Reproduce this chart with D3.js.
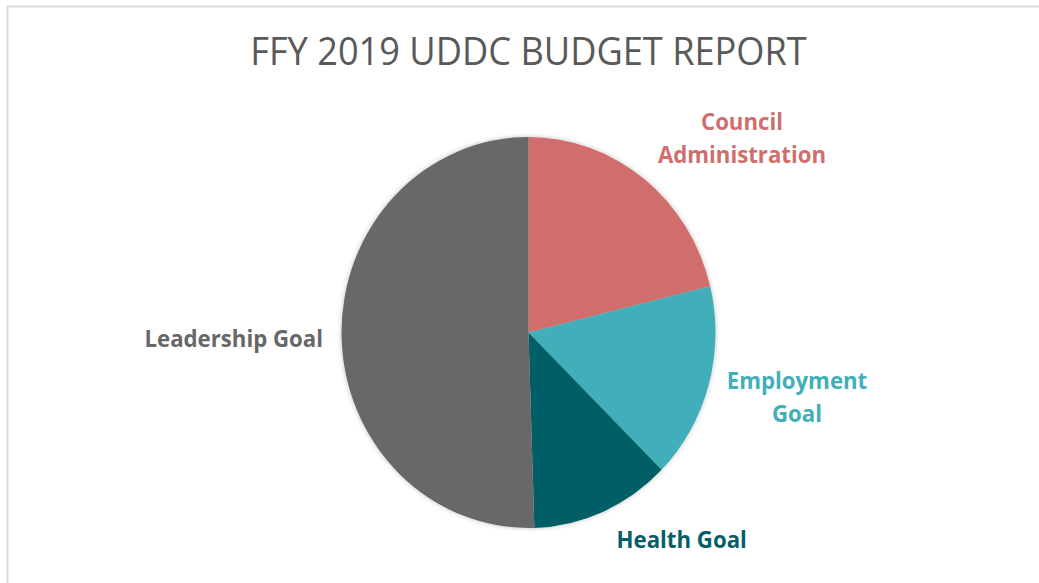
<!DOCTYPE html>
<html>
<head>
<meta charset="utf-8">
<script src="https://cdn.jsdelivr.net/npm/d3@7"></script>
<style>
  html, body { margin: 0; padding: 0; background: #fff; }
  svg { display: block; }
</style>
</head>
<body>
<svg id="chart" width="1039" height="583"></svg>
<script>
// ---- data ----
const title = "FFY 2019 UDDC BUDGET REPORT";
const categories = ["Council Administration", "Employment Goal", "Health Goal", "Leadership Goal"];
const values = [21.2, 16.2, 12.1, 50.5];
const labelLines = [["Council", "Administration"], ["Employment", "Goal"], ["Health Goal"], ["Leadership Goal"]];
const sliceColors = ["#D06E6E", "#40AFBA", "#065E66", "#676767"];

// ---- layout (not data) ----
const W = 1039, H = 583;
const cx = 528.5, cy = 332.5, R = 187, sy = 1.0455;
const font = "'Open Sans', 'Noto Sans', sans-serif";
const labelLayout = {
  "Council Administration": { x: 742, y: 130, anchor: "middle" },
  "Employment Goal": { x: 797, y: 389.5, anchor: "middle" },
  "Health Goal": { x: 681.7, y: 548, anchor: "middle" },
  "Leadership Goal": { x: 323, y: 347, anchor: "end" }
};
const lineGap = 33;

const svg = d3.select("#chart");
const color = d3.scaleOrdinal().domain(categories).range(sliceColors);

// frame
svg.append("line").attr("x1", 7).attr("x2", W).attr("y1", 6.5).attr("y2", 6.5)
  .attr("stroke", "#d9d9d9").attr("stroke-width", 2);
svg.append("line").attr("x1", 7.5).attr("x2", 7.5).attr("y1", 6).attr("y2", H)
  .attr("stroke", "#d9d9d9").attr("stroke-width", 2);

// shadow
const defs = svg.append("defs");
const f = defs.append("filter").attr("id", "sh").attr("x", "-10%").attr("y", "-10%").attr("width", "120%").attr("height", "120%");
f.append("feDropShadow").attr("dx", 0).attr("dy", 0).attr("stdDeviation", 2.5)
  .attr("flood-color", "#000").attr("flood-opacity", 0.25);

// title
svg.append("text")
  .attr("x", cx).attr("y", 65 / sy)
  .attr("transform", `scale(1,${sy})`)
  .attr("text-anchor", "middle")
  .attr("font-family", font).attr("font-size", 36.2)
  .attr("fill", "#595959")
  .text(title);

// pie
const data = categories.map((c, i) => ({ cat: c, value: values[i], lines: labelLines[i] }));
const pie = d3.pie().value(d => d.value).sort(null).startAngle(0).endAngle(2 * Math.PI);
const arc = d3.arc().innerRadius(0).outerRadius(R);

const g = svg.append("g")
  .attr("transform", `translate(${cx},${cy}) scale(1,${sy})`)
  .attr("filter", "url(#sh)");
g.selectAll("path").data(pie(data)).join("path")
  .attr("d", arc)
  .attr("fill", d => color(d.data.cat));

// labels
const lab = svg.append("g").attr("transform", `scale(1,${sy})`);
data.forEach(d => {
  const L = labelLayout[d.cat];
  const t = lab.append("text")
    .attr("text-anchor", L.anchor)
    .attr("font-family", font).attr("font-size", 22.2).attr("font-weight", 700)
    .attr("fill", color(d.cat));
  d.lines.forEach((ln, i) => {
    t.append("tspan").attr("x", L.x).attr("y", (L.y + i * lineGap) / sy).text(ln);
  });
});
</script>
</body>
</html>
